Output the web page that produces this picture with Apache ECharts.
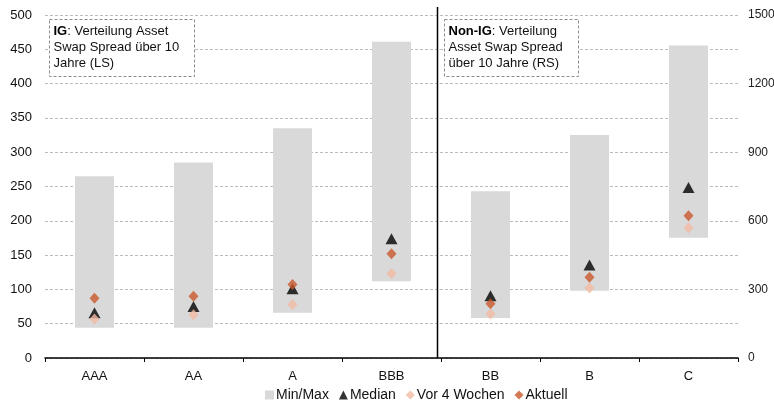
<!DOCTYPE html>
<html>
<head>
<meta charset="utf-8">
<script src="https://cdn.jsdelivr.net/npm/echarts@6/dist/echarts.min.js"></script>
<style>
  html, body { margin: 0; padding: 0; background: #fff; }
  #chart { width: 774px; height: 402px; }
</style>
</head>
<body>
<div id="chart"></div>
<script>
// Rating buckets: the first four use the left scale (IG), the rest the right scale (Non-IG)
const categories = ['AAA', 'AA', 'A', 'BBB', 'BB', 'B', 'C'];
const igCount = 4;
const minVals = [44, 44, 66, 112, 175, 294, 526];
const maxVals = [265, 285, 335, 461, 729, 975, 1367];
const medianVals = [66, 75, 101, 174, 272, 407, 746];
const vor4Vals = [57, 63, 78, 123, 192, 306, 570];
const aktuellVals = [87, 90, 107, 152, 237, 353, 622];
const leftTicks = { min: 0, max: 500, interval: 50 };
const rightTicks = { min: 0, max: 1500, interval: 300 };

const FONT = 'Liberation Sans, Arial, sans-serif';
const C_RANGE = '#d9d9d9';
const C_MEDIAN = '#000000';
const C_VOR4 = '#f2b9a2';
const C_AKT = '#c9582a';

// split an array into the IG part (left axis) and Non-IG part (right axis)
const ig = arr => arr.map((v, i) => (i < igCount ? v : '-'));
const nig = arr => arr.map((v, i) => (i >= igCount ? v : '-'));
const ranges = maxVals.map((v, i) => v - minVals[i]);

function rangeSeries(which, axis) {
  return [
    {
      type: 'bar', stack: 'r' + axis, yAxisIndex: axis, barWidth: 39, barGap: '-100%',
      itemStyle: { color: 'transparent' }, silent: true, data: which(minVals),
      emphasis: { disabled: true }
    },
    {
      name: 'Min/Max', type: 'bar', stack: 'r' + axis, yAxisIndex: axis, barWidth: 39, barGap: '-100%',
      itemStyle: { color: C_RANGE }, data: which(ranges), emphasis: { disabled: true }
    }
  ];
}
function pointSeries(name, values, symbol, size, color, z) {
  return [ig, nig].map((which, axis) => ({
    name, type: 'scatter', yAxisIndex: axis, symbol, symbolSize: size, z,
    itemStyle: { color }, data: which(values)
  }));
}

const chart = echarts.init(document.getElementById('chart'));
chart.setOption({
  animation: false,
  textStyle: { fontFamily: FONT },
  grid: { left: 45, right: 36, top: 15, bottom: 44, outerBoundsMode: 'none', containLabel: false },
  xAxis: {
    type: 'category', data: categories,
    axisLine: { lineStyle: { color: '#000', width: 1.5 } },
    axisTick: { show: true, length: 4, lineStyle: { color: '#000' } },
    axisLabel: { color: '#111', fontSize: 13, margin: 12, fontFamily: FONT }
  },
  yAxis: [
    {
      type: 'value', ...leftTicks,
      axisLine: { show: false }, axisTick: { show: false },
      axisLabel: { color: '#111', fontSize: 13, margin: 13, fontFamily: FONT },
      splitLine: { lineStyle: { color: '#bcbcbc', type: [3, 2] } }
    },
    {
      type: 'value', ...rightTicks, position: 'right',
      axisLine: { show: false }, axisTick: { show: false },
      axisLabel: { color: '#222', fontSize: 12, margin: 10, fontFamily: FONT, formatter: v => String(v) },
      splitLine: { show: false }
    }
  ],
  legend: {
    top: 388, left: 265, padding: 0, itemGap: 10, itemWidth: 9, itemHeight: 9,
    textStyle: { fontSize: 14, color: '#111', fontFamily: FONT, padding: [0, 0, 0, -3] },
    data: [
      { name: 'Min/Max', icon: 'rect', itemStyle: { color: C_RANGE } },
      { name: 'Median', icon: 'triangle' },
      { name: 'Vor 4 Wochen', icon: 'diamond' },
      { name: 'Aktuell', icon: 'diamond' }
    ]
  },
  series: [
    ...rangeSeries(ig, 0),
    ...rangeSeries(nig, 1),
    ...pointSeries('Median', medianVals, 'triangle', [12, 11], C_MEDIAN, 3),
    ...pointSeries('Vor 4 Wochen', vor4Vals, 'diamond', [10, 11], C_VOR4, 4),
    ...pointSeries('Aktuell', aktuellVals, 'diamond', [10, 11], C_AKT, 5)
  ]
});

// Separator between the IG and Non-IG groups plus the two explanatory boxes
const xBBB = chart.convertToPixel({ xAxisIndex: 0 }, 'BBB');
const xBB = chart.convertToPixel({ xAxisIndex: 0 }, 'BB');
const sepX = Math.round((xBBB + xBB) / 2) - 4 + 0.5;
const yBottom = chart.convertToPixel({ yAxisIndex: 0 }, 0);

function noteBox(x, y, w, h, bold, lines) {
  return {
    type: 'group', x, y,
    children: [
      { type: 'rect', shape: { x: 0, y: 0, width: w, height: h },
        style: { fill: '#fff', stroke: '#8c8c8c', lineWidth: 1, lineDash: [3, 2] } },
      { type: 'text', x: 4, y: 4,
        style: {
          text: '{b|' + bold + '}' + lines,
          font: '13px ' + FONT, fill: '#111', lineHeight: 16,
          rich: { b: { fontWeight: 'bold', fontSize: 13, fontFamily: FONT, fill: '#000', lineHeight: 16 } }
        } }
    ]
  };
}

chart.setOption({
  graphic: [
    { type: 'line', shape: { x1: sepX, y1: 7, x2: sepX, y2: yBottom },
      style: { stroke: '#000', lineWidth: 1.5 }, z: 10 },
    noteBox(49.5, 19.5, 145, 57, 'IG', ': Verteilung Asset\nSwap Spread über 10\nJahre (LS)'),
    noteBox(444.5, 19.5, 134, 57, 'Non-IG', ': Verteilung\nAsset Swap Spread\nüber 10 Jahre (RS)')
  ]
});
</script>
</body>
</html>
